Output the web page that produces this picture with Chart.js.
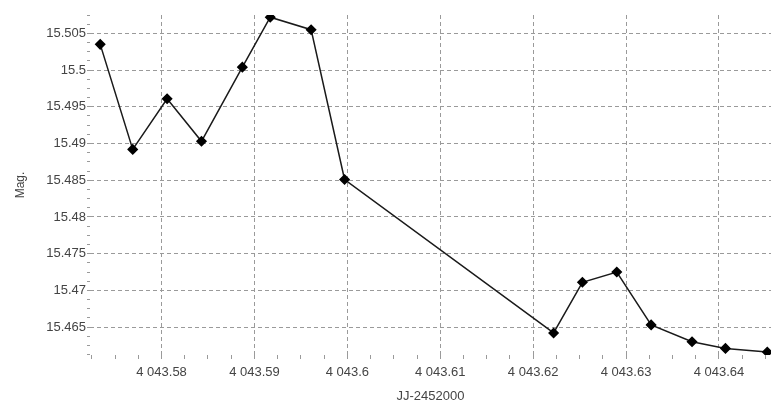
<!DOCTYPE html>
<html>
<head>
<meta charset="utf-8">
<script src="https://cdn.jsdelivr.net/npm/chart.js@4"></script>
<style>
  body { margin: 0; background: #fff; }
  #wrap { width: 777px; height: 404px; }
</style>
</head>
<body>
<div id="wrap"><canvas id="lc"></canvas></div>
<script>
// JJ-2452000 vs magnitude
const jd = [4043.5734, 4043.5769, 4043.5806, 4043.5843, 4043.5887, 4043.5917, 4043.5961, 4043.5997,
            4043.6222, 4043.6253, 4043.6290, 4043.6327, 4043.6371, 4043.6407, 4043.6452];
const mag = [15.5035, 15.4892, 15.4961, 15.4903, 15.5004, 15.5072, 15.5055, 15.4851,
             15.4642, 15.4711, 15.4725, 15.4653, 15.4630, 15.4621, 15.4616];
const xTicks = [4043.58, 4043.59, 4043.60, 4043.61, 4043.62, 4043.63, 4043.64];
const yTicks = [15.465, 15.47, 15.475, 15.48, 15.485, 15.49, 15.495, 15.5, 15.505];

const xMin = 4043.5723, xMax = 4043.6456;
const yMin = 15.4612, yMax = 15.5075;

// majors plus 3 minor ticks between each
const withMinor = (majors, step, lo, hi) => {
  const out = [];
  const s = step / 4;
  const start = Math.ceil((lo - majors[0]) / s - 1e-6);
  for (let i = start; majors[0] + i * s <= hi + 1e-9; i++) {
    const v = +(majors[0] + i * s).toFixed(6);
    out.push({ value: v, major: i % 4 === 0 });
  }
  return out;
};

const fmtX = v => {
  const s = (+v.toFixed(4)).toString();
  const [a, b] = s.split('.');
  return a.replace(/\B(?=(\d{3})+(?!\d))/g, ' ') + (b ? '.' + b : '');
};

const gridCol = '#9a9a9a';
const font = { family: 'Liberation Sans, Arial, sans-serif', size: 13 };

new Chart(document.getElementById('lc'), {
  type: 'line',
  data: {
    datasets: [{
      data: jd.map((x, i) => ({ x, y: mag[i] })),
      borderColor: '#1a1a1a',
      borderWidth: 1.5,
      pointStyle: 'rectRot',
      pointRadius: 4.5,
      pointBackgroundColor: '#000',
      pointBorderColor: '#000',
      tension: 0
    }]
  },
  options: {
    responsive: true,
    maintainAspectRatio: false,
    animation: false,
    layout: { padding: { top: 15, right: 2, left: 0, bottom: 0 } },
    plugins: { legend: { display: false }, tooltip: { enabled: false } },
    scales: {
      x: {
        type: 'linear',
        min: xMin, max: xMax,
        afterBuildTicks: ax => { ax.ticks = withMinor(xTicks, 0.01, xMin, xMax); },
        afterFit: ax => { ax.height = 49; },
        border: { display: false, dash: [4, 3] },
        grid: {
          color: c => (c.tick && c.tick.major) ? gridCol : 'rgba(0,0,0,0)',
          tickColor: gridCol,
          tickLength: 4,
          lineWidth: 1
        },
        ticks: {
          autoSkip: false, maxRotation: 0,
          color: '#444', font, padding: 6,
          callback: (v, i, t) => t[i].major ? fmtX(v) : ''
        },
        title: { display: true, text: 'JJ-2452000', color: '#444', font, padding: { top: 0, bottom: 0 } }
      },
      y: {
        min: yMin, max: yMax,
        afterBuildTicks: ax => { ax.ticks = withMinor(yTicks, 0.005, yMin, yMax); },
        afterFit: ax => { ax.width = 90; },
        border: { display: false, dash: [4, 3] },
        grid: {
          color: c => (c.tick && c.tick.major) ? gridCol : 'rgba(0,0,0,0)',
          tickColor: gridCol,
          tickLength: 3,
          lineWidth: 1
        },
        ticks: {
          autoSkip: false,
          color: '#444', font, padding: 1,
          callback: (v, i, t) => t[i].major ? (+v.toFixed(4)).toString() : ''
        },
        title: { display: true, text: 'Mag.', color: '#444', font: { ...font, size: 12 }, padding: { top: 13, bottom: 0 } }
      }
    }
  }
});
</script>
</body>
</html>
